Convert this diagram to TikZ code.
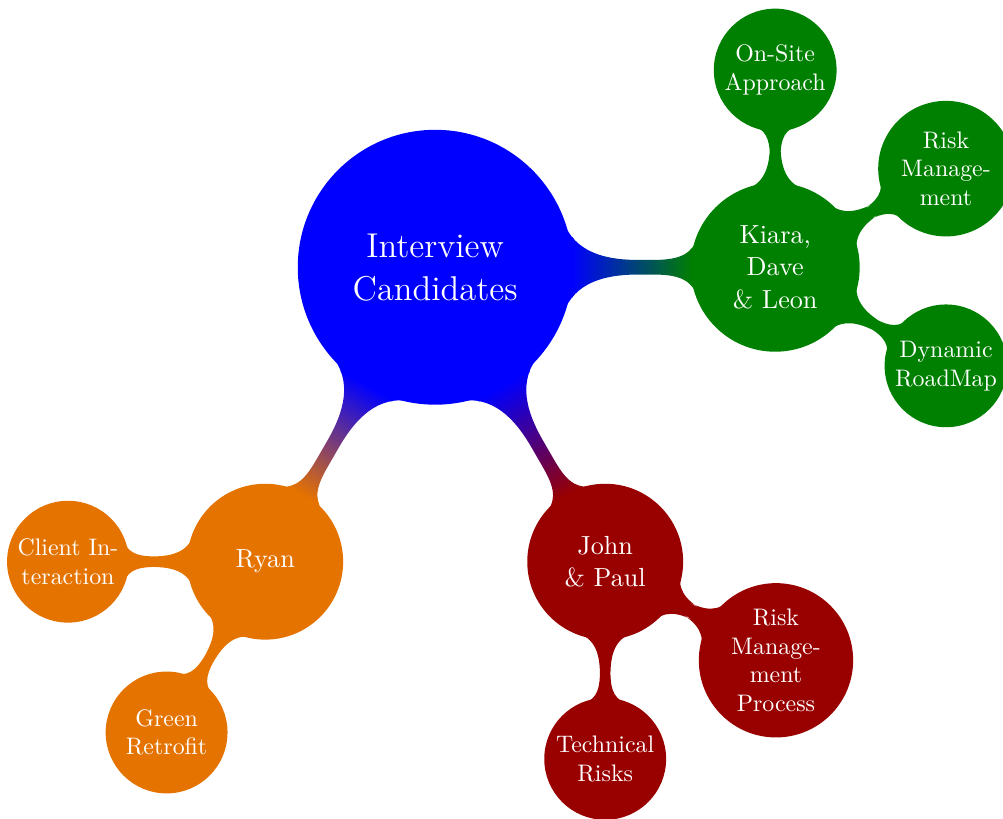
\documentclass[12pt,tikz,border=0pt]{standalone}
\usepackage{tikz}
\usetikzlibrary{
  mindmap,
  trees
}
\hyphenation{manage-ment}

\begin{document}
\begin{tikzpicture}[mindmap,every node/.style={concept},concept color=blue,text=white,
    level 1/.append style={level distance=5cm},
    level 2/.append style={level distance=2.9cm}]
  % 描画範囲
  \useasboundingbox (-6.4,-8.1) rectangle (8.35,3.93);
  % 中心
  \node (root) {Interview Candidates}
    % 右の枝
    child[concept color=green!50!black,grow=0] { node (kdl) {Kiara, Dave \& Leon}
      child[grow=90] { node (onsite) {On-Site Approach} }
      child[grow=30] { node (riskmgmt) {Risk Management} }
      child[grow=-30] { node (roadmap) {Dynamic RoadMap} }
    }
    % 右下の枝
    child[concept color=red!60!black,grow=-60] { node (jp) {John \& Paul}
      child[grow=-30] { node (riskproc) {Risk Management Process} }
      child[grow=-90] { node (techrisk) {Technical Risks} }
    }
    % 左下の枝
    child[concept color=orange!90!black,grow=-120] { node (ryan) {Ryan}
      child[grow=180] { node (client) {Client Interaction} }
      child[grow=-120] { node (retrofit) {Green Retrofit} }
    };
\end{tikzpicture}
\end{document}
